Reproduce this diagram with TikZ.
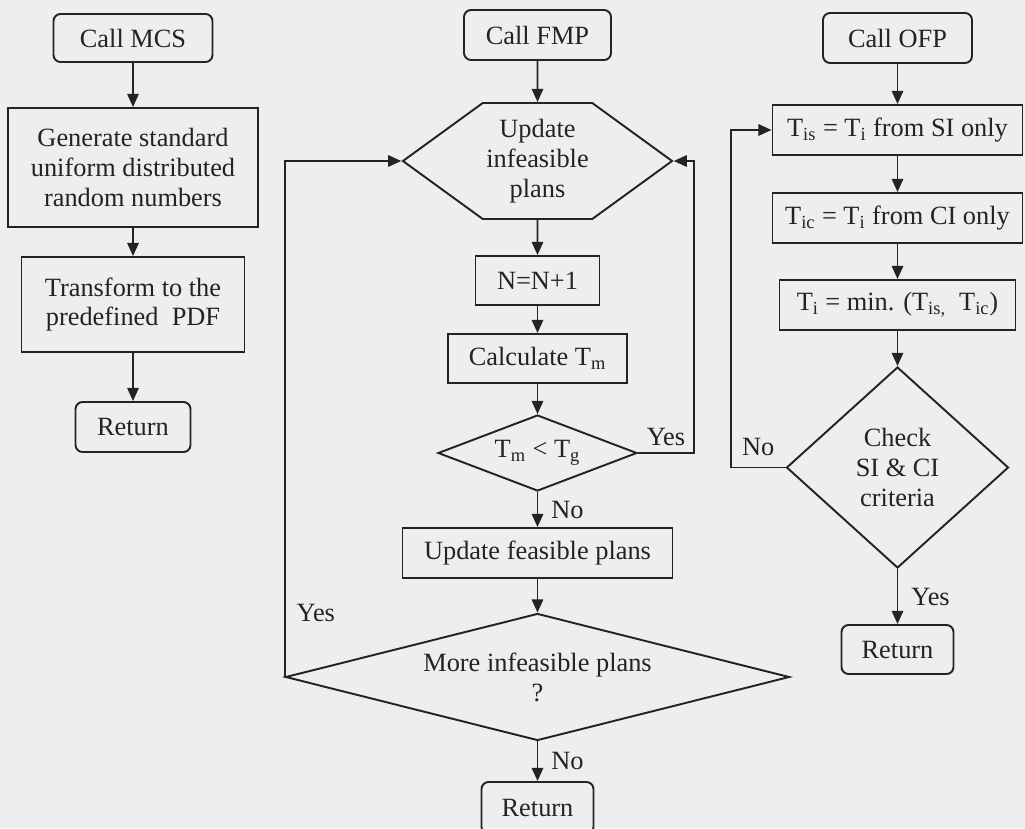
\documentclass[tikz,border=0pt]{standalone}
\usepackage{fontspec}
\setmainfont{Liberation Serif}
\usepackage{tikz}
\definecolor{pagegray}{RGB}{238,238,240}
\definecolor{inkgray}{RGB}{35,35,35}
\usetikzlibrary{arrows.meta,positioning,shapes.geometric,shapes.symbols,calc}

\begin{document}
\begin{tikzpicture}[font=\fontsize{15}{17}\selectfont,
  box/.style={draw=inkgray,line width=1.1pt,text=inkgray,align=center,inner sep=2pt},
  term/.style={box,rounded corners=4pt},
  dec/.style={box,diamond,inner sep=0pt},
  flow/.style={draw=inkgray,line width=1.1pt,-{Triangle[length=7.5pt,width=6.5pt]}},
  lbl/.style={text=inkgray}]
  \path[use as bounding box,fill=pagegray] (0,0) rectangle (20.5,-16.56);
  % MCS column
  \node[term,minimum width=3.18cm,minimum height=0.96cm] (mcs) at (2.66,-0.76) {Call MCS};
  \node[box,minimum width=5.0cm,minimum height=2.38cm] (gen) at (2.66,-3.35) {Generate standard\\uniform distributed\\random numbers};
  \node[box,minimum width=4.46cm,minimum height=1.9cm] (trans) at (2.66,-6.09) {Transform to the\\predefined~ PDF};
  \node[term,minimum width=2.3cm,minimum height=1.0cm] (ret1) at (2.66,-8.54) {Return};
  \draw[flow] (mcs)--(gen);
  \draw[flow] (gen)--(trans);
  \draw[flow] (trans)--(ret1);
  % FMP column
  \node[term,minimum width=2.94cm,minimum height=1.0cm] (fmp) at (10.75,-0.70) {Call FMP};
  \node[box,signal,signal to=east and west,signal pointer angle=72,minimum width=4.3cm,minimum height=2.32cm] (upd) at (10.75,-3.22) {Update\\infeasible\\plans};
  \node[box,minimum width=2.48cm,minimum height=0.98cm] (cnt) at (10.75,-5.61) {N=N+1};
  \node[box,minimum width=3.58cm,minimum height=0.98cm] (calc) at (10.75,-7.17) {Calculate T\textsubscript{m}};
  \node[dec,shape aspect=2.6,minimum width=3.98cm,minimum height=1.52cm] (cmp) at (10.75,-9.06) {T\textsubscript{m} < T\textsubscript{g}};
  \node[box,minimum width=5.4cm,minimum height=1.0cm] (feas) at (10.75,-11.06) {Update feasible plans};
  \node[dec,shape aspect=4,minimum width=10.08cm,minimum height=2.54cm] (more) at (10.75,-13.54) {More infeasible plans\\?};
  \node[term,minimum width=2.24cm,minimum height=1.04cm] (ret2) at (10.75,-16.16) {Return};
  \draw[flow] (fmp)--(upd);
  \draw[flow] (upd)--(cnt);
  \draw[flow] (cnt)--(calc);
  \draw[flow] (calc)--(cmp);
  \draw[flow] (cmp)--(feas) node[lbl,midway,right,xshift=4pt]{No};
  \draw[flow] (cmp.east)--++(1.12,0) node[lbl,midway,above]{Yes} |- (upd.east);
  \draw[flow] (feas)--(more);
  \draw[flow] (more.west) |- node[lbl,pos=0.062,right,xshift=3pt]{Yes} (upd.west);
  \draw[flow] (more)--(ret2) node[lbl,midway,right,xshift=4pt]{No};
  % OFP column
  \node[term,minimum width=2.98cm,minimum height=1.0cm] (ofp) at (17.95,-0.76) {Call OFP};
  \node[box,minimum width=5.0cm,minimum height=1.0cm] (tis) at (17.95,-2.6) {T\textsubscript{is} = T\textsubscript{i} from SI only};
  \node[box,minimum width=5.0cm,minimum height=1.0cm] (tic) at (17.95,-4.36) {T\textsubscript{ic} = T\textsubscript{i} from CI only};
  \node[box,minimum width=4.72cm,minimum height=1.0cm] (tmin) at (17.95,-6.1) {T\textsubscript{i} = min. (T\textsubscript{is,}~ T\textsubscript{ic})};
  \node[dec,shape aspect=1.1,minimum width=4.44cm,minimum height=4.02cm] (chk) at (17.95,-9.35) {Check\\SI \& CI\\criteria};
  \node[term,minimum width=2.24cm,minimum height=0.98cm] (ret3) at (17.95,-12.99) {Return};
  \draw[flow] (ofp)--(tis);
  \draw[flow] (tis)--(tic);
  \draw[flow] (tic)--(tmin);
  \draw[flow] (tmin)--(chk);
  \draw[flow] (chk.west)--++(-1.09,0) node[lbl,midway,above,yshift=3pt]{No} |- (tis.west);
  \draw[flow] (chk)--(ret3) node[lbl,midway,right,xshift=4pt]{Yes};
\end{tikzpicture}
\end{document}
